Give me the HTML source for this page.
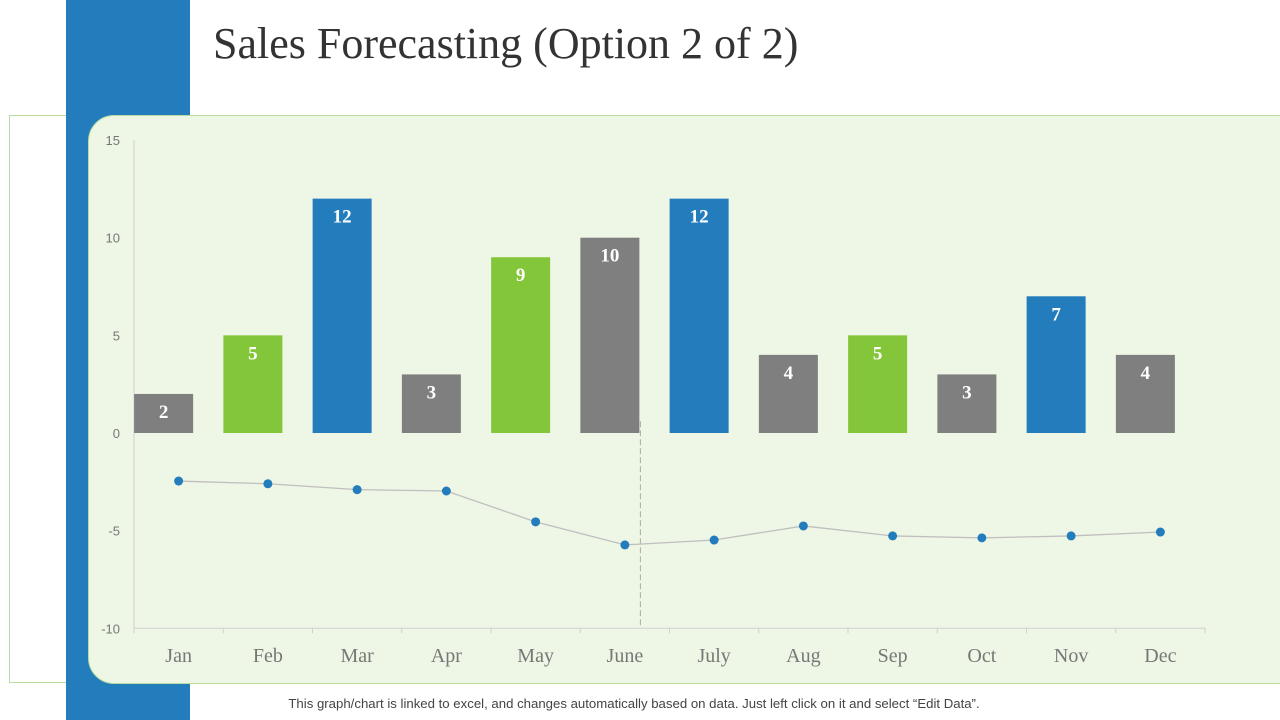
<!DOCTYPE html>
<html><head><meta charset="utf-8"><style>
body{margin:0;width:1280px;height:720px;position:relative;background:#fff;overflow:hidden;font-family:"Liberation Sans",sans-serif}
</style></head><body>
<div style="position:absolute;left:9px;top:115px;width:1300px;height:568px;border:1px solid #b8dca0;box-sizing:border-box"></div>
<div style="position:absolute;left:66px;top:0;width:124px;height:720px;background:#237dbd"></div>
<div style="position:absolute;left:88px;top:115px;width:1230px;height:569px;background:#eef6e5;border:1px solid #b8dca0;border-radius:26px;box-sizing:border-box"></div>
<div style="position:absolute;left:213px;top:18px;font-family:'Liberation Serif',serif;font-size:44px;color:#333">Sales Forecasting (Option 2 of 2)</div>
<svg id="chart" width="1280" height="720" style="position:absolute;left:0;top:0"></svg>
<div style="position:absolute;left:-6px;width:1280px;top:696px;text-align:center;font-size:13.2px;color:#444">This graph/chart is linked to excel, and changes automatically based on data. Just left click on it and select “Edit Data”.</div>
<script>
const categories=["Jan","Feb","Mar","Apr","May","June","July","Aug","Sep","Oct","Nov","Dec"];
const barValues=[2,5,12,3,9,10,12,4,5,3,7,4];
const barColors=["#7f7f7f","#84c639","#237dbd","#7f7f7f","#84c639","#7f7f7f","#237dbd","#7f7f7f","#84c639","#7f7f7f","#237dbd","#7f7f7f"];
const lineValues=[-2.46,-2.6,-2.9,-2.97,-4.55,-5.73,-5.48,-4.76,-5.27,-5.37,-5.27,-5.07];
const yTicks=[15,10,5,0,-5,-10];
const NS="http://www.w3.org/2000/svg";
const svg=document.getElementById('chart');
const x0=134,x1=1205,step=(x1-x0)/categories.length;
const y=v=>433-v*19.53;
const xc=i=>x0+step*(i+0.5);
const bw=59,boff=-15;
function el(t,a){const e=document.createElementNS(NS,t);for(const k in a)e.setAttribute(k,a[k]);svg.appendChild(e);return e;}
let e=el('line',{x1:x0,y1:y(15),x2:x0,y2:y(-10),stroke:'#d0d0d0'});


e=el('line',{x1:x0,y1:y(-10),x2:x1,y2:y(-10),stroke:'#d0d0d0'});


yTicks.forEach(t=>{const tx=el('text',{x:x0-14,y:y(t)+5,'text-anchor':'end','font-size':13,fill:'#777','font-family':'Liberation Sans,sans-serif'});tx.textContent=t;

});
for(let i=0;i<=categories.length;i++){const tk=el('line',{x1:x0+step*i,y1:y(-10),x2:x0+step*i,y2:y(-10)+5,stroke:'#d0d0d0'});

}
categories.forEach((c,i)=>{const tx=el('text',{x:xc(i),y:662,'text-anchor':'middle','font-size':20,fill:'#777','font-family':'Liberation Serif,serif'});tx.textContent=c;

});
barValues.forEach((v,i)=>{const r=el('rect',{x:xc(i)+boff-bw/2,y:y(v),width:bw,height:y(0)-y(v),fill:barColors[i]});


const tx=el('text',{x:xc(i)+boff,y:y(v)+24,'text-anchor':'middle','font-size':19,'font-weight':'bold',fill:'#fff','font-family':'Liberation Serif,serif'});tx.textContent=v;

});
const dx=xc(5)+boff+bw/2+1;
e=el('line',{x1:dx,y1:y(0.6),x2:dx,y2:y(-10),stroke:'#aaa','stroke-dasharray':'6,3'});


e=el('polyline',{points:lineValues.map((v,i)=>xc(i)+','+y(v)).join(' '),fill:'none',stroke:'#bfbfbf','stroke-width':1.3});


lineValues.forEach((v,i)=>{const c=el('circle',{cx:xc(i),cy:y(v),r:4.5,fill:'#237dbd'});

});
</script>
</body></html>
